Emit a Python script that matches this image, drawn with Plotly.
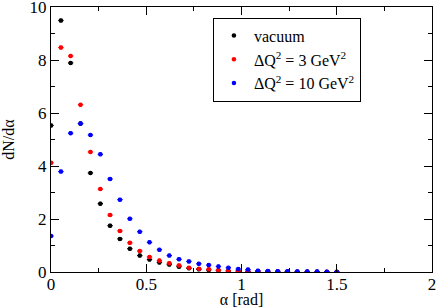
import plotly.graph_objects as go

alpha = [0.0, 0.052, 0.103, 0.155, 0.207, 0.259, 0.31, 0.362, 0.414, 0.466,
         0.517, 0.569, 0.621, 0.672, 0.724, 0.776, 0.828, 0.879, 0.931, 0.983,
         1.034, 1.086, 1.138, 1.19, 1.241, 1.293, 1.345, 1.397, 1.448, 1.5]

vacuum = [5.53, 9.49, 7.89, 5.6, 3.74, 2.58, 1.75, 1.25, 0.88, 0.62,
          0.47, 0.36, 0.28, 0.2, 0.14, 0.1, 0.08, 0.06, 0.04, 0.03,
          0.025, 0.02, 0.015, 0.012, 0.01, 0.008, 0.006, 0.005, 0.004, 0.003]
dq3 = [4.12, 8.47, 8.15, 6.31, 4.53, 3.13, 2.15, 1.55, 1.10, 0.79,
       0.57, 0.43, 0.33, 0.25, 0.16, 0.12, 0.1, 0.07, 0.05, 0.04,
       0.03, 0.025, 0.02, 0.015, 0.012, 0.01, 0.008, 0.006, 0.005, 0.004]
dq10 = [1.36, 3.79, 5.24, 5.60, 5.17, 4.44, 3.51, 2.73, 2.01, 1.52,
        1.12, 0.84, 0.62, 0.48, 0.40, 0.31, 0.26, 0.21, 0.16, 0.11,
        0.09, 0.05, 0.04, 0.03, 0.025, 0.02, 0.017, 0.015, 0.012, 0.01]

names = ["vacuum", "ΔQ<sup>2</sup> = 3 GeV<sup>2</sup>", "ΔQ<sup>2</sup> = 10 GeV<sup>2</sup>"]
colors = ["black", "red", "blue"]

fig = go.Figure()
for ys, name, col in zip([vacuum, dq3, dq10], names, colors):
    fig.add_trace(go.Scatter(
        x=alpha, y=ys, mode="markers", name=name,
        marker=dict(color=col, size=4.5),
        error_x=dict(type="constant", value=0.014, color=col, thickness=1.2, width=0),
        error_y=dict(type="constant", value=0.05, color=col, thickness=1, width=1.5),
    ))

font = "Liberation Serif, Times New Roman, serif"
axis_common = dict(
    showline=True, linecolor="black", linewidth=1, mirror="allticks",
    ticks="inside", ticklen=8, tickcolor="black", showgrid=False, zeroline=False,
    ticklabeloverflow="allow", automargin=False,
    tickfont=dict(family=font, size=17, color="black"),
)
fig.update_layout(
    width=436, height=308,
    margin=dict(l=51, r=4, t=7, b=36),
    paper_bgcolor="white", plot_bgcolor="white",
    font=dict(family=font, color="black"),
    xaxis=dict(range=[0, 2], tickvals=[0, 0.5, 1, 1.5, 2], ticktext=["0", "0.5", "1", "1.5", "2"],
               minor=dict(dtick=0.25, ticks="inside", ticklen=4, tickcolor="black"),
               ticklabelstandoff=-3,
               title=dict(text="α [rad]", font=dict(family=font, size=16), standoff=0),
               **axis_common),
    yaxis=dict(range=[0, 10], tickvals=[0, 2, 4, 6, 8, 10],
               minor=dict(dtick=1, ticks="inside", ticklen=4, tickcolor="black"),
               title=dict(text="dN/dα", font=dict(family=font, size=16), standoff=10),
               **axis_common),
    showlegend=True,
    legend=dict(x=0.425, y=0.96, xanchor="left", yanchor="top",
                bordercolor="black", borderwidth=1, bgcolor="white",
                font=dict(family=font, size=16, color="black"),
                tracegroupgap=0, itemwidth=30),
)
fig.write_html("out.html", config={"displayModeBar": False},
               post_script="document.body.style.margin='0';document.body.style.overflow='hidden';")
